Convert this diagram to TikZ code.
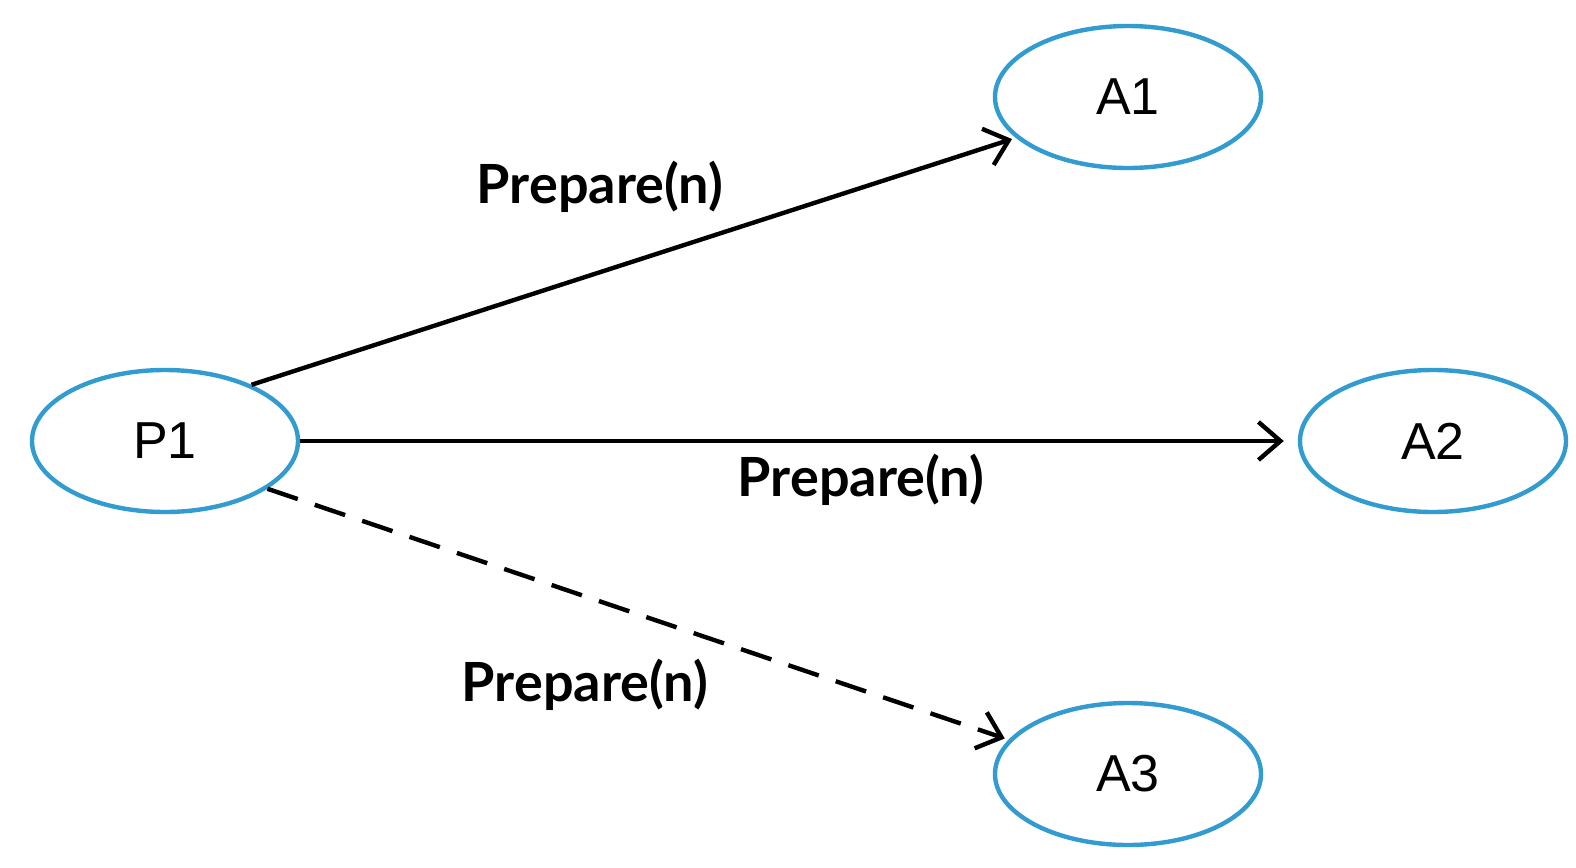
\documentclass[tikz,border=0pt]{standalone}
\usepackage{fontspec}
\usepackage{xcolor}
\usepackage{tikz}
\usetikzlibrary{arrows.meta}
\usetikzlibrary{shapes.geometric}
\usetikzlibrary{positioning}
\newfontfamily\nodefont{Liberation Sans}
\newfontfamily\labelfont{Lato}
\definecolor{ringblue}{RGB}{50,155,208}

\begin{document}
\begin{tikzpicture}[x=0.5pt,y=-0.5pt,-{Straight Barb[length=11pt,width=19pt]},line width=2.2pt,shorten >=2pt]
	\tikzstyle{agent}=[draw=ringblue, ellipse, line width=2.2pt, minimum width=133pt, minimum height=71pt, inner sep=0pt, font=\nodefont\fontsize{26}{30}\selectfont]
	\tikzstyle{msg}=[font=\labelfont\bfseries\fontsize{27}{32}\selectfont, inner sep=0pt]
	\useasboundingbox (0,0) rectangle (1576,868);
		\node[agent]		(P1) at (165,441)	{P1};
		\node[agent]		(A1) at (1128,97)	{A1};
		\node[agent]		(A2) at (1433,441)	{A2};
		\node[agent]		(A3) at (1128,774)	{A3};
		\node[msg]		(M1) at (600,187)	{Prepare(n)};
		\node[msg]		(M2) at (861,480)	{Prepare(n)};
		\node[msg]		(M3) at (585,685)	{Prepare(n)};
		\path
			(P1.33) edge (A1.200)
			(P1.east) edge [shorten >=7pt] (A2.west)
			(P1.335) edge [dash pattern=on 16pt off 9pt] (A3.164);
\end{tikzpicture}
\end{document}
